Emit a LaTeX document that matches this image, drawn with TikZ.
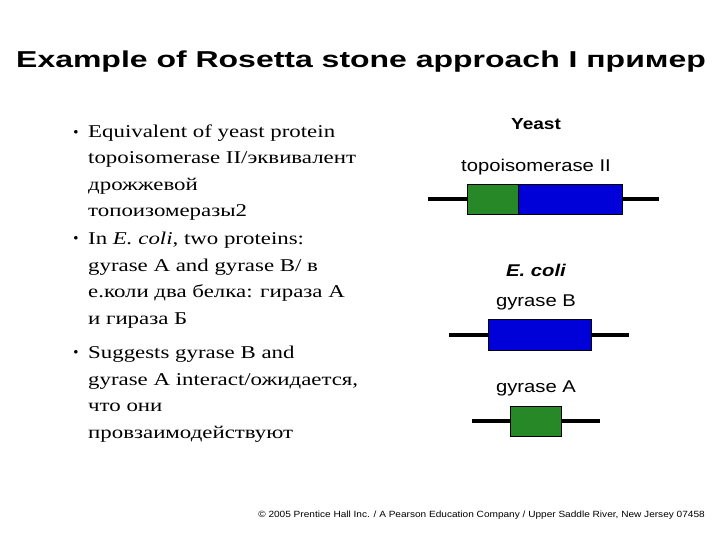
\documentclass[tikz,border=0pt]{standalone}
\usepackage{fontspec}
\usepackage{graphicx}
\setmainfont{Liberation Serif}
\setsansfont{Liberation Sans}
\newcommand{\bx}[1]{\scalebox{1.27}[1]{#1}}
\newcommand{\lx}[1]{\scalebox{1.19}[1]{#1}}
\begin{document}
\begin{tikzpicture}[x=1pt,y=-1pt,
  bl/.style={anchor=base west,inner sep=0pt,font=\fontsize{18}{20}\selectfont},
  lab/.style={anchor=base,inner sep=0pt,font=\sffamily\fontsize{17}{19}\selectfont},
  bar/.style={line width=4pt},
  gbox/.style={draw=black,fill=green!45!black!85!white,line width=0.6pt},
  bbox/.style={draw=black,fill=blue!85!black,line width=0.6pt}]
\useasboundingbox (0,0) rectangle (720,540);
\node[anchor=base west,inner sep=0pt,font=\sffamily\bfseries\fontsize{23}{24}\selectfont] (title) at (16,68) {\scalebox{1.39}[1]{Example of Rosetta stone approach I пример}};
% bullets
\foreach \y/\n in {138/b1,244/b2,358/b3}{\node[inner sep=0pt,font=\fontsize{9}{9}\selectfont] (\n) at (76,\y-6) {$\bullet$};}
\node[bl] (t1) at (88,138) {\bx{Equivalent of yeast protein}};
\node[bl] (t2) at (88,164) {\bx{topoisomerase II/эквивалент}};
\node[bl] (t3) at (88,191) {\bx{дрожжевой}};
\node[bl] (t4) at (88,217) {\bx{топоизомеразы2}};
\node[bl] (t5) at (88,244) {\bx{In \textit{E. coli}, two proteins:}};
\node[bl] (t6) at (88,271) {\bx{gyrase A and gyrase B/ в}};
\node[bl] (t7) at (88,297) {\bx{е.коли два белка: гираза А}};
\node[bl] (t8) at (88,324) {\bx{и гираза Б}};
\node[bl] (t9) at (88,358) {\bx{Suggests gyrase B and}};
\node[bl] (t10) at (88,385) {\bx{gyrase A interact/ожидается,}};
\node[bl] (t11) at (88,411) {\bx{что они}};
\node[bl] (t12) at (88,438) {\bx{провзаимодействуют}};
% right labels
\node[lab,font=\sffamily\bfseries\fontsize{16}{18}\selectfont] (yeast) at (536,130) {\lx{Yeast}};
\node[lab] (topo) at (536,172) {\lx{topoisomerase II}};
\node[lab,font=\sffamily\bfseries\itshape\fontsize{17}{19}\selectfont] (ecoli) at (536,276) {\lx{E. coli}};
\node[lab] (gb) at (536,306) {\lx{gyrase B}};
\node[lab] (ga) at (536,392) {\lx{gyrase A}};
% yeast bar
\coordinate (y1) at (428,199); \coordinate (y2) at (659,199);
\draw[bar] (y1) -- (y2);
\draw[gbox] (467,184) rectangle (518,214);
\draw[bbox] (518,184) rectangle (622,214);
% gyrase B
\coordinate (b1l) at (449,335); \coordinate (b1r) at (629,335);
\draw[bar] (b1l) -- (b1r);
\draw[bbox] (488,319) rectangle (591,350);
% gyrase A
\coordinate (a1l) at (472,421); \coordinate (a1r) at (600,421);
\draw[bar] (a1l) -- (a1r);
\draw[gbox] (510,406) rectangle (561,436);
% footer
\node[anchor=base east,inner sep=0pt,font=\sffamily\fontsize{9}{10}\selectfont] (foot) at (705,517) {\scalebox{1.12}[1]{© 2005 Prentice Hall Inc. / A Pearson Education Company / Upper Saddle River, New Jersey 07458}};
\end{tikzpicture}
\end{document}
